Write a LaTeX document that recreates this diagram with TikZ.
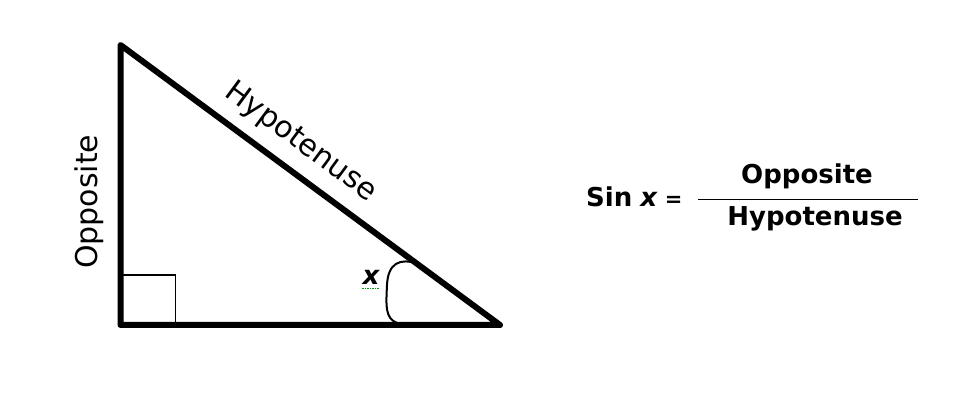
\documentclass[tikz,border=0pt]{standalone}
\usepackage{fontspec}
\setmainfont{DejaVu Sans}
\usepackage{tikz}
\usetikzlibrary{calc}
\usetikzlibrary{positioning}

\begin{document}
\begin{tikzpicture}[x=1pt,y=-1pt]
    \tikzstyle{every node}=[inner sep=0pt]
    \tikzstyle{side}=[draw=black,line width=6pt,line join=round,line cap=round]
    \tikzstyle{sidelabel}=[font=\fontsize{30}{36}\selectfont]
    \tikzstyle{formula}=[font=\fontsize{26}{31}\selectfont\bfseries]

   \useasboundingbox (0,0) rectangle (962,411);

   % vertices of the triangle
   \coordinate (top) at (120.5,45);
   \coordinate (corner) at (120.5,325);
   \coordinate (tip) at (500,325);

   % right angle mark
   \draw[line width=1.5pt] (corner) rectangle ++(55,-50);

   \draw[side] (top) -- (corner) -- (tip) -- cycle;

   \path (corner) -- (top)
     node[sidelabel,sloped,pos=0.44,above=17pt] (opp) {Opposite};
   \path (top) -- (tip)
     node[sidelabel,sloped,pos=0.43,above=14.5pt] (hyp) {Hypotenuse};

   % angle x
   \coordinate (arcstart) at (417,263.5);
   \coordinate (arcend) at (397,323);
   \draw[line width=2pt] (arcstart) .. controls (400,258) and (388,263) .. (387,285)
     .. controls (386,306) and (385,318) .. (arcend);

   \node[font=\fontsize{26}{31}\selectfont\bfseries\itshape,anchor=base] (angle) at (371,285) {x};
   \draw[green!60!black,line width=0.8pt,dash pattern=on 1.5pt off 1pt]
     ($(angle.base west)+(0,3)$) -- ($(angle.base east)+(0,3)$);

   % sin x = opposite / hypotenuse
   \node[formula,anchor=base west] (sin) at (586,207)
     {Sin\hspace{-1pt} \textit{x}\hspace{-2pt} {\fontsize{21}{25}\selectfont=}};

   \coordinate (barl) at (698,199.5);
   \coordinate (barr) at (918,199.5);
   \draw[line width=1pt] (barl) -- (barr);

   \node[formula,anchor=base] (num) at (807,184) {Opposite};
   \node[formula,anchor=base] (den) at (815,226) {Hypotenuse};

  \end{tikzpicture}
\end{document}
